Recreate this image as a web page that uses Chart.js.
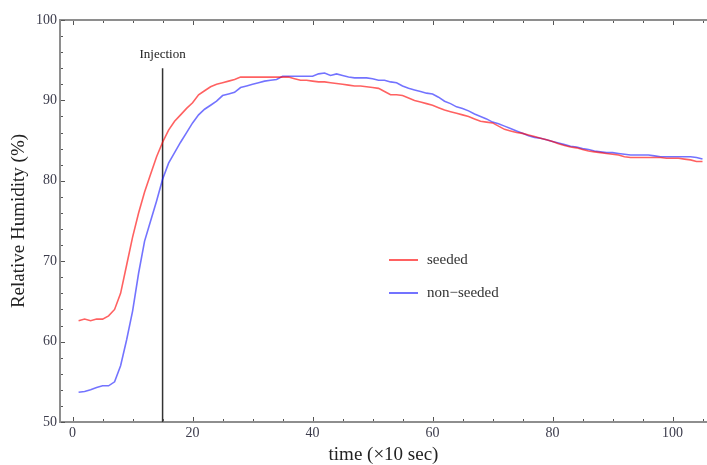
<!DOCTYPE html>
<html>
<head>
<meta charset="utf-8">
<script src="https://cdn.jsdelivr.net/npm/chart.js@4/dist/chart.umd.min.js"></script>
<style>
  html, body { margin: 0; padding: 0; background: #fff; overflow: hidden; }
  #wrap { width: 707px; height: 465px; }
</style>
</head>
<body>
<div id="wrap"><canvas id="c" width="707" height="465"></canvas></div>
<script>
// time (x10 sec)
const time = [1,2,3,4,5,6,7,8,9,10,11,12,13,14,15,16,17,18,19,20,
  21,22,23,24,25,26,27,28,29,30,31,32,33,34,35,36,37,38,39,40,
  41,42,43,44,45,46,47,48,49,50,51,52,53,54,55,56,57,58,59,60,
  61,62,63,64,65,66,67,68,69,70,71,72,73,74,75,76,77,78,79,80,
  81,82,83,84,85,86,87,88,89,90,91,92,93,94,95,96,97,98,99,100,
  101,102,103,104,105];

const seeded = [62.6,62.8,62.6,62.8,62.8,63.2,64.0,66.0,69.5,73.0,
  76.0,78.6,80.8,83.0,84.8,86.3,87.4,88.2,89.0,89.7,
  90.7,91.2,91.7,92.0,92.2,92.4,92.6,92.9,92.9,92.9,
  92.9,92.9,92.9,92.9,92.9,92.9,92.7,92.5,92.5,92.4,
  92.3,92.3,92.2,92.1,92.0,91.9,91.8,91.8,91.7,91.6,
  91.5,91.1,90.7,90.7,90.6,90.3,90.0,89.8,89.6,89.4,
  89.1,88.8,88.6,88.4,88.2,88.0,87.7,87.4,87.3,87.2,
  86.8,86.4,86.2,86.0,85.9,85.7,85.5,85.3,85.1,84.9,
  84.6,84.4,84.2,84.1,83.9,83.7,83.6,83.5,83.4,83.3,
  83.2,83.0,82.9,82.9,82.9,82.9,82.9,82.9,82.8,82.8,
  82.8,82.7,82.6,82.4,82.4];

const nonSeeded = [53.7,53.8,54.0,54.3,54.5,54.5,55.0,57.0,60.2,63.8,
  68.5,72.5,75.0,77.5,80.2,82.2,83.5,84.8,86.0,87.2,
  88.2,88.9,89.4,89.9,90.6,90.8,91.0,91.6,91.8,92.0,
  92.2,92.4,92.5,92.6,93.0,93.0,93.0,93.0,93.0,93.0,
  93.3,93.4,93.1,93.3,93.1,92.9,92.8,92.8,92.8,92.7,
  92.5,92.5,92.3,92.2,91.8,91.5,91.3,91.1,90.9,90.8,
  90.4,89.9,89.6,89.2,89.0,88.7,88.3,88.0,87.7,87.3,
  87.1,86.8,86.5,86.2,85.9,85.6,85.4,85.3,85.1,84.9,
  84.7,84.5,84.3,84.2,84.0,83.9,83.7,83.6,83.5,83.5,
  83.4,83.3,83.2,83.2,83.2,83.2,83.1,83.0,83.0,83.0,
  83.0,83.0,83.0,82.9,82.7];

const injectionTime = 15;
const injectionRange = [50, 94];
const injectionLabelY = 95.7;

const xTicks = [0, 20, 40, 60, 80, 100];
const xMinorTicks = [5, 10, 15, 25, 30, 35, 45, 50, 55, 65, 70, 75, 85, 90, 95, 105];
const yTicks = [50, 60, 70, 80, 90, 100];
const yMinorTicks = [52, 54, 56, 58, 62, 64, 66, 68, 72, 74, 76, 78, 82, 84, 86, 88, 92, 94, 96, 98];

const seriesNames = ['seeded', 'non\u2212seeded'];
const RED = 'rgba(255,0,0,0.62)';
const BLUE = 'rgba(0,0,255,0.55)';
const FRAME = '#8e8e8e';
const TXT = '#3c3c4c';
const SERIF = '"Liberation Serif", "DejaVu Serif", serif';

const toPts = (xs, ys) => xs.map((x, i) => ({ x: x, y: ys[i] }));

const framePlugin = {
  id: 'frame',
  afterDatasetsDraw(chart) {
    const ctx = chart.ctx;
    const xs = chart.scales.x, ys = chart.scales.y;
    const a = chart.chartArea;
    ctx.save();
    // top frame line
    ctx.strokeStyle = FRAME;
    ctx.lineWidth = 2;
    ctx.beginPath();
    ctx.moveTo(a.left - 1, a.top);
    ctx.lineTo(a.right + 2, a.top);
    ctx.stroke();
    // ticks inward
    ctx.lineWidth = 1;
    ctx.strokeStyle = '#555';
    const tickX = (v, len) => {
      const p = Math.round(xs.getPixelForValue(v)) + 0.5;
      ctx.beginPath();
      ctx.moveTo(p, a.bottom - 1); ctx.lineTo(p, a.bottom - 1 - len);
      ctx.moveTo(p, a.top + 1); ctx.lineTo(p, a.top + 1 + len);
      ctx.stroke();
    };
    const tickY = (v, len) => {
      const p = Math.round(ys.getPixelForValue(v)) + 0.5;
      ctx.beginPath();
      ctx.moveTo(a.left + 1, p); ctx.lineTo(a.left + 1 + len, p);
      ctx.stroke();
    };
    xTicks.forEach(v => tickX(v, 4));
    xMinorTicks.forEach(v => tickX(v, 2));
    yTicks.forEach(v => tickY(v, 4));
    yMinorTicks.forEach(v => tickY(v, 2));

    // Injection label
    ctx.fillStyle = '#222';
    ctx.font = '13px ' + SERIF;
    ctx.textAlign = 'center';
    ctx.textBaseline = 'middle';
    ctx.fillText('Injection', xs.getPixelForValue(injectionTime), ys.getPixelForValue(injectionLabelY));

    // legend
    const lx = a.left + 329, ly1 = a.top + 240, ly2 = a.top + 273;
    const items = [[seriesNames[0], RED, ly1], [seriesNames[1], BLUE, ly2]];
    ctx.font = '15px ' + SERIF;
    ctx.textAlign = 'left';
    items.forEach(([name, col, y]) => {
      ctx.strokeStyle = col;
      ctx.lineWidth = 2;
      ctx.beginPath();
      ctx.moveTo(lx, y); ctx.lineTo(lx + 29, y);
      ctx.stroke();
      ctx.fillStyle = '#333';
      ctx.fillText(name, lx + 38, y);
    });
    ctx.restore();
  }
};

new Chart(document.getElementById('c'), {
  type: 'line',
  data: {
    datasets: [
      { label: seriesNames[0], data: toPts(time, seeded), borderColor: RED, borderWidth: 1.6, pointRadius: 0, tension: 0, fill: false },
      { label: seriesNames[1], data: toPts(time, nonSeeded), borderColor: BLUE, borderWidth: 1.6, pointRadius: 0, tension: 0, fill: false },
      { label: 'Injection', data: [{ x: injectionTime, y: injectionRange[0] }, { x: injectionTime, y: injectionRange[1] }],
        borderColor: '#333', borderWidth: 1.5, pointRadius: 0, fill: false }
    ]
  },
  options: {
    responsive: false,
    animation: false,
    devicePixelRatio: 1,
    layout: { padding: { top: 20, right: 0, left: 0, bottom: 0 } },
    plugins: { legend: { display: false }, tooltip: { enabled: false } },
    scales: {
      x: {
        type: 'linear',
        min: -2.1, max: 105.75,
        afterBuildTicks: s => { s.ticks = xTicks.map(v => ({ value: v })); },
        afterFit: s => { s.height = 43; },
        grid: { display: false, drawTicks: false },
        border: { display: true, color: FRAME, width: 2 },
        ticks: { padding: 3, color: TXT, font: { family: SERIF, size: 14 }, maxRotation: 0, autoSkip: false },
        title: { display: true, text: 'time (\u00d710 sec)', color: '#222', font: { family: SERIF, size: 19, lineHeight: 1 }, padding: { top: 0, bottom: 0 } }
      },
      y: {
        type: 'linear',
        min: 50, max: 100,
        afterBuildTicks: s => { s.ticks = yTicks.map(v => ({ value: v })); },
        afterFit: s => { s.width = 60; },
        grid: { display: false, drawTicks: false },
        border: { display: true, color: FRAME, width: 2 },
        ticks: { padding: 3, color: TXT, font: { family: SERIF, size: 14 }, autoSkip: false },
        title: { display: true, text: 'Relative Humidity (%)', color: '#222', font: { family: SERIF, size: 19, lineHeight: 1 }, padding: { top: 10, bottom: 0 } }
      }
    }
  },
  plugins: [framePlugin]
});
</script>
</body>
</html>
